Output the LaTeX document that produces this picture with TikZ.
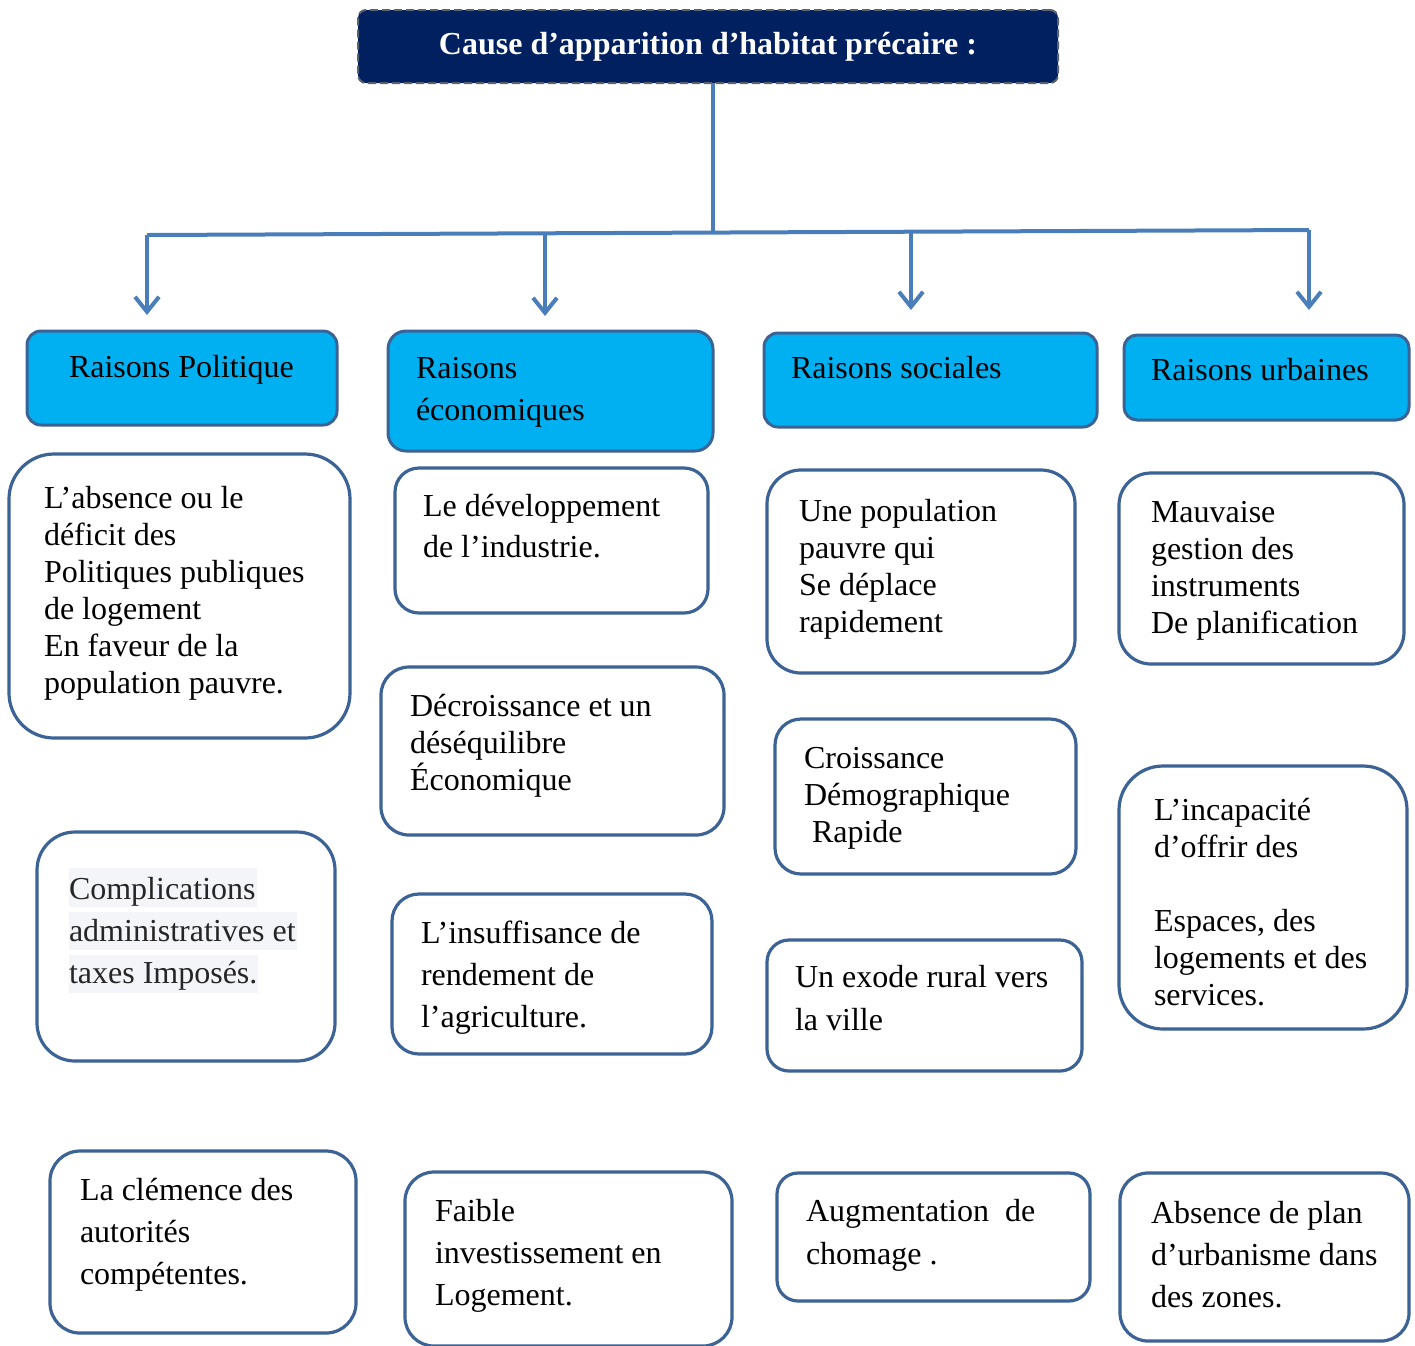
\documentclass[tikz,border=0pt]{standalone}
\usepackage{fontspec}
\setmainfont{Liberation Serif}
\usetikzlibrary{arrows.meta}
\definecolor{navy}{HTML}{002060}
\definecolor{cyanh}{HTML}{00B0F0}
\definecolor{bordb}{HTML}{3C6396}
\definecolor{connb}{HTML}{4A7EBB}
\definecolor{hilite}{HTML}{F4F5F8}
\definecolor{dgray}{HTML}{262626}
\definecolor{dashg}{HTML}{5A6270}
\newcommand\mkbox[7]{% style, name, x1, y1, x2, y2, radius
  \node[#1, rounded corners=#7pt, minimum width={(#5-#3)*1pt}, minimum height={(#6-#4)*1pt}] (#2) at ({(#3+#5)/2},{(#4+#6)/2}) {};}
\tikzset{
  boxsty/.style={draw=bordb, line width=3.2pt, fill=white, inner sep=0pt, outer sep=0pt},
  headsty/.style={draw=bordb, line width=3pt, fill=cyanh, inner sep=0pt, outer sep=0pt},
  titlesty/.style={draw=dashg, dash pattern=on 8pt off 4pt, line width=2pt, fill=navy, rounded corners=8pt,
    text=white, font=\bfseries\fontsize{32}{38}\selectfont, inner sep=0pt, outer sep=0pt},
  txt/.style={inner sep=0pt, outer sep=0pt, align=left, anchor=base west, font=\fontsize{32}{37}\selectfont},
  wide/.style={font=\fontsize{32}{42}\selectfont},
  conn/.style={draw=connb, line width=4pt},
  tipd/.style={-{Straight Barb[length=15pt,width=24pt]}}
}
\begin{document}
\begin{tikzpicture}[x=1pt,y=-1pt]
\useasboundingbox (0,0) rectangle (1415,1345);
% title
\node[titlesty, minimum width=700pt, minimum height=73pt] (title) at (708,46.5) {Cause d’apparition d’habitat précaire :};
% headers
\mkbox{headsty}{h1}{27}{331}{337}{425}{14}
\mkbox{headsty}{h2}{388}{331}{713}{451}{18}
\mkbox{headsty}{h3}{764}{333}{1097}{427}{14}
\mkbox{headsty}{h4}{1124}{335}{1409}{420}{13}
% (multi-line text nodes are placed by the baseline of their last line)
\node[txt] (h1t) at (69,377) {Raisons Politique};
\node[txt, wide] (h2t) at (416,420) {Raisons\\économiques};
\node[txt] (h3t) at (791,378) {Raisons sociales};
\node[txt] (h4t) at (1151,380) {Raisons urbaines};
% connectors
\coordinate (jn) at (713,232);
\coordinate (bl) at (147,235);
\coordinate (br) at (1309,230);
\coordinate (m2) at (545,234);
\coordinate (m3) at (911,232);
\draw[conn] (jn |- title.south) -- (jn);
\draw[conn] (bl) -- (br);
\draw[conn, tipd, shorten >=16pt] (bl) -- (bl |- h1.north);
\draw[conn, tipd, shorten >=15pt] (m2) -- (m2 |- h2.north);
\draw[conn, tipd, shorten >=23pt] (m3) -- (m3 |- h3.north);
\draw[conn, tipd, shorten >=25pt] (br) -- (br |- h4.north);
% column 1
\mkbox{boxsty}{b1}{9}{454}{350}{738}{45}
\node[txt] (b1t) at (44,693) {L’absence ou le\\déficit des\\Politiques publiques\\de logement\\En faveur de la\\population pauvre.};
\mkbox{boxsty}{b2}{37}{832}{335}{1061}{38}
\fill[hilite] (69,868) rectangle (257,907);
\fill[hilite] (69,912) rectangle (297,950);
\fill[hilite] (69,955) rectangle (258,993);
\node[txt, wide, text=dgray] (b2t) at (69,983) {Complications\\administratives et\\taxes Imposés.};
\mkbox{boxsty}{b3}{50}{1151}{356}{1333}{30}
\node[txt, wide] (b3t) at (80,1284) {La clémence des\\autorités\\compétentes.};
% column 2
\mkbox{boxsty}{b4}{395}{468}{708}{613}{24}
\node[txt, font=\fontsize{32}{41}\selectfont] (b4t) at (423,557) {Le développement\\de l’industrie.};
\mkbox{boxsty}{b5}{381}{667}{724}{835}{28}
\node[txt] (b5t) at (410,790) {Décroissance et un\\déséquilibre\\Économique};
\mkbox{boxsty}{b6}{392}{894}{712}{1054}{27}
\node[txt, wide] (b6t) at (421,1027) {L’insuffisance de\\rendement de\\l’agriculture.};
\mkbox{boxsty}{b7}{405}{1172}{732}{1346}{29}
\node[txt, wide] (b7t) at (435,1305) {Faible\\investissement en\\Logement.};
% column 3
\mkbox{boxsty}{b8}{767}{470}{1075}{673}{34}
\node[txt] (b8t) at (799,632) {Une population\\pauvre qui\\Se déplace\\rapidement};
\mkbox{boxsty}{b9}{775}{719}{1076}{874}{26}
\node[txt] (b9t) at (804,842) {Croissance\\Démographique\\\hspace*{8pt}Rapide};
\mkbox{boxsty}{b10}{767}{940}{1082}{1071}{22}
\node[txt, font=\fontsize{32}{43}\selectfont] (b10t) at (795,1030) {Un exode rural vers\\la ville};
\mkbox{boxsty}{b11}{777}{1173}{1090}{1301}{21}
\node[txt, font=\fontsize{32}{43}\selectfont] (b11t) at (806,1264) {Augmentation\ \ de\\chomage .};
% column 4
\mkbox{boxsty}{b12}{1119}{473}{1404}{664}{32}
\node[txt] (b12t) at (1151,633) {Mauvaise\\gestion des\\instruments\\De planification};
\mkbox{boxsty}{b13}{1119}{766}{1407}{1029}{44}
\node[txt] (b13t) at (1154,1005) {L’incapacité\\d’offrir des\\[37pt]Espaces, des\\logements et des\\services.};
\mkbox{boxsty}{b14}{1120}{1173}{1409}{1341}{28}
\node[txt, wide] (b14t) at (1151,1307) {Absence de plan\\d’urbanisme dans\\des zones.};
\end{tikzpicture}
\end{document}
